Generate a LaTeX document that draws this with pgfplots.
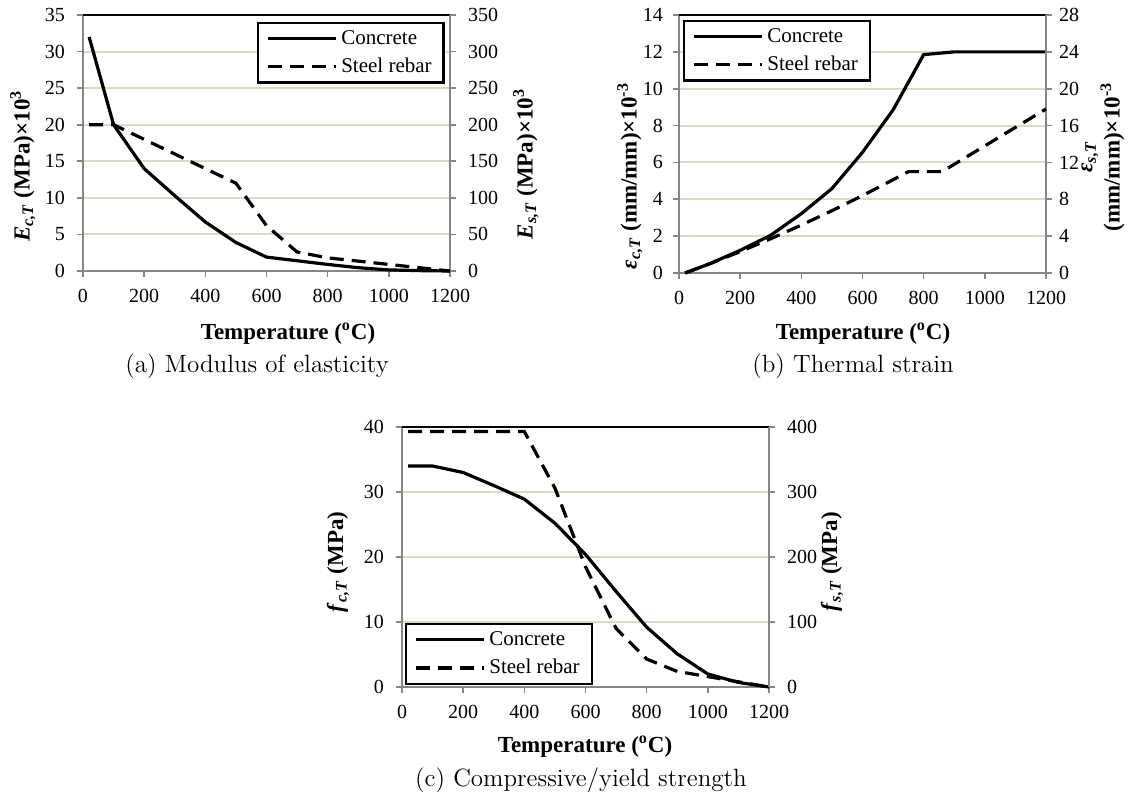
\documentclass[border=0pt]{standalone}
\usepackage{fontspec}
\newfontfamily\tnr{Liberation Serif}
\usepackage{pgfplots}
\pgfplotsset{compat=1.18}
\definecolor{gridc}{HTML}{DDD9C3}
\definecolor{axc}{HTML}{868686}
\newcommand\lblfont{\tnr\bfseries\fontsize{11.5}{13.5}\selectfont}
\newcommand\capfont{\rmfamily\fontsize{12.5}{15}\selectfont}
\pgfplotsset{
  base/.style={scale only axis, width=183.5pt, anchor=south west,
    xmin=0, xmax=1200, xtick={0,200,...,1200},
    tick align=outside, major tick length=3pt,
    tick style={axc, line width=0.8pt},
    ticklabel style={font=\tnr\fontsize{10}{12}\selectfont, black},
    xticklabel style={yshift=-2.5pt},
    /pgf/number format/assume math mode=true,
    /pgf/number format/1000 sep={},
    axis line style={-},
    clip=false},
  leftax/.style={base, axis x line*=bottom, axis y line*=left,
    x axis line style={axc, line width=1pt},
    y axis line style={axc, line width=1pt},
    yticklabel style={xshift=-2.5pt},
    ymajorgrids, major grid style={gridc, line width=1pt}},
  rightax/.style={base, axis x line=none, axis y line*=right, xtick=\empty,
    y axis line style={axc, line width=1pt},
    yticklabel style={xshift=2.5pt},
    legend cell align=left,
    legend image code/.code={\draw[##1] (0pt,0pt) -- (34pt,0pt);},
    legend style={draw=black, line width=1.2pt, fill=white,
      font=\tnr\fontsize{10.5}{12}\selectfont,
      inner xsep=4pt, inner ysep=1.5pt, row sep=1.5pt,
      /tikz/every even column/.append style={column sep=0pt}}},
  conc/.style={black, line width=1.6pt, solid},
  steel/.style={black, line width=1.6pt, dash pattern=on 7pt off 4pt},
}
\begin{document}
\begin{tikzpicture}
\useasboundingbox (0,0) rectangle (567pt,397pt);
% ---------------- (a)
\begin{axis}[leftax, at={(41.5pt,261.5pt)}, height=128pt, ymin=0, ymax=35, ytick={0,5,...,35}]
\addplot[conc] coordinates {(20,32) (100,20) (200,14) (300,10.3) (400,6.7) (500,3.9) (600,1.9) (700,1.4) (800,0.9) (900,0.45) (1000,0.15) (1100,0.05) (1200,0)};
\draw[black, line width=1.2pt] (rel axis cs:0,1) -- (rel axis cs:1,1);
\end{axis}
\begin{axis}[rightax, at={(41.5pt,261.5pt)}, height=128pt, ymin=0, ymax=350, ytick={0,50,...,350},
  legend style={at={(0.986,0.973)}, anchor=north east}]
\addlegendimage{conc}
\addlegendentry{Concrete}
\addplot[steel] coordinates {(20,200) (100,200) (200,180) (300,160) (400,140) (500,120) (600,62) (700,26) (800,18) (900,13.5) (1000,9) (1100,4.5) (1200,0)};
\addlegendentry{Steel rebar}
\end{axis}
\node[rotate=90, font=\lblfont] at (11.5pt,314pt) {\textit{E}\textsubscript{\textit{c,T}} (MPa)×10\textsuperscript{3}};
\node[rotate=90, font=\lblfont] at (263pt,315pt) {\textit{E}\textsubscript{\textit{s,T}} (MPa)×10\textsuperscript{3}};
\node[font=\lblfont] at (144pt,230pt) {Temperature (\textsuperscript{o}C)};
\node[font=\capfont] at (128.5pt,214pt) {(a) Modulus of elasticity};
% ---------------- (b)
\begin{axis}[leftax, at={(339.5pt,260.5pt)}, height=129pt, ymin=0, ymax=14, ytick={0,2,...,14},
  yticklabel style={xshift=1pt}]
\addplot[conc] coordinates {(20,0) (100,0.5) (200,1.23) (300,2.05) (400,3.22) (500,4.58) (600,6.55) (700,8.85) (800,11.85) (900,12) (1000,12) (1100,12) (1200,12)};
\draw[black, line width=1.2pt] (rel axis cs:0,1) -- (rel axis cs:1,1);
\end{axis}
\begin{axis}[rightax, at={(339.5pt,260.5pt)}, height=129pt, ymin=0, ymax=28, ytick={0,4,...,28},
  yticklabel style={xshift=-2.5pt},
  legend style={at={(0.011,0.981)}, anchor=north west}]
\addlegendimage{conc}
\addlegendentry{Concrete}
\addplot[steel] coordinates {(20,0) (100,1.0) (200,2.32) (300,3.72) (400,5.2) (500,6.76) (600,8.4) (700,10.12) (750,11.0) (860,11.0) (900,11.8) (1000,13.8) (1100,15.8) (1200,17.8)};
\addlegendentry{Steel rebar}
\end{axis}
\node[rotate=90, font=\lblfont] at (315pt,309pt) {\textit{ε}\textsubscript{\textit{c,T}} (mm/mm)×10\textsuperscript{-3}};
\node[rotate=90, font=\tnr\bfseries\fontsize{11.5}{10.5}\selectfont, align=center] at (551.5pt,318.5pt) {\textit{ε}\textsubscript{\textit{s,T}}\\(mm/mm)×10\textsuperscript{-3}};
\node[font=\lblfont] at (431.5pt,230pt) {Temperature (\textsuperscript{o}C)};
\node[font=\capfont] at (426.5pt,214pt) {(b) Thermal strain};
% ---------------- (c)
\begin{axis}[leftax, at={(201pt,53.5pt)}, height=130pt, ymin=0, ymax=40, ytick={0,10,...,40}]
\addplot[conc] coordinates {(20,34) (100,34) (200,33) (300,31) (400,28.9) (500,25.2) (600,20.4) (700,14.7) (800,9.2) (900,5.1) (1000,2.0) (1100,0.7) (1200,0)};
\draw[black, line width=1.2pt] (rel axis cs:0,1) -- (rel axis cs:1,1);
\end{axis}
\begin{axis}[rightax, at={(201pt,53.5pt)}, height=130pt, ymin=0, ymax=400, ytick={0,100,...,400},
  legend style={at={(0.008,0.008)}, anchor=south west}]
\addlegendimage{conc}
\addlegendentry{Concrete}
\addplot[steel] coordinates {(20,393) (100,393) (200,393) (300,393) (400,393) (500,306) (600,185) (700,90) (800,43) (900,24) (1000,16) (1100,8) (1200,0)};
\addlegendentry{Steel rebar}
\end{axis}
\node[rotate=90, font=\lblfont] at (169pt,116pt) {\textit{f}\textsubscript{\textit{c,T}} (MPa)};
\node[rotate=90, font=\lblfont] at (416pt,116pt) {\textit{f}\textsubscript{\textit{s,T}} (MPa)};
\node[font=\lblfont] at (292.5pt,23.5pt) {Temperature (\textsuperscript{o}C)};
\node[font=\capfont] at (290.5pt,7pt) {(c) Compressive/yield strength};
\end{tikzpicture}
\end{document}
